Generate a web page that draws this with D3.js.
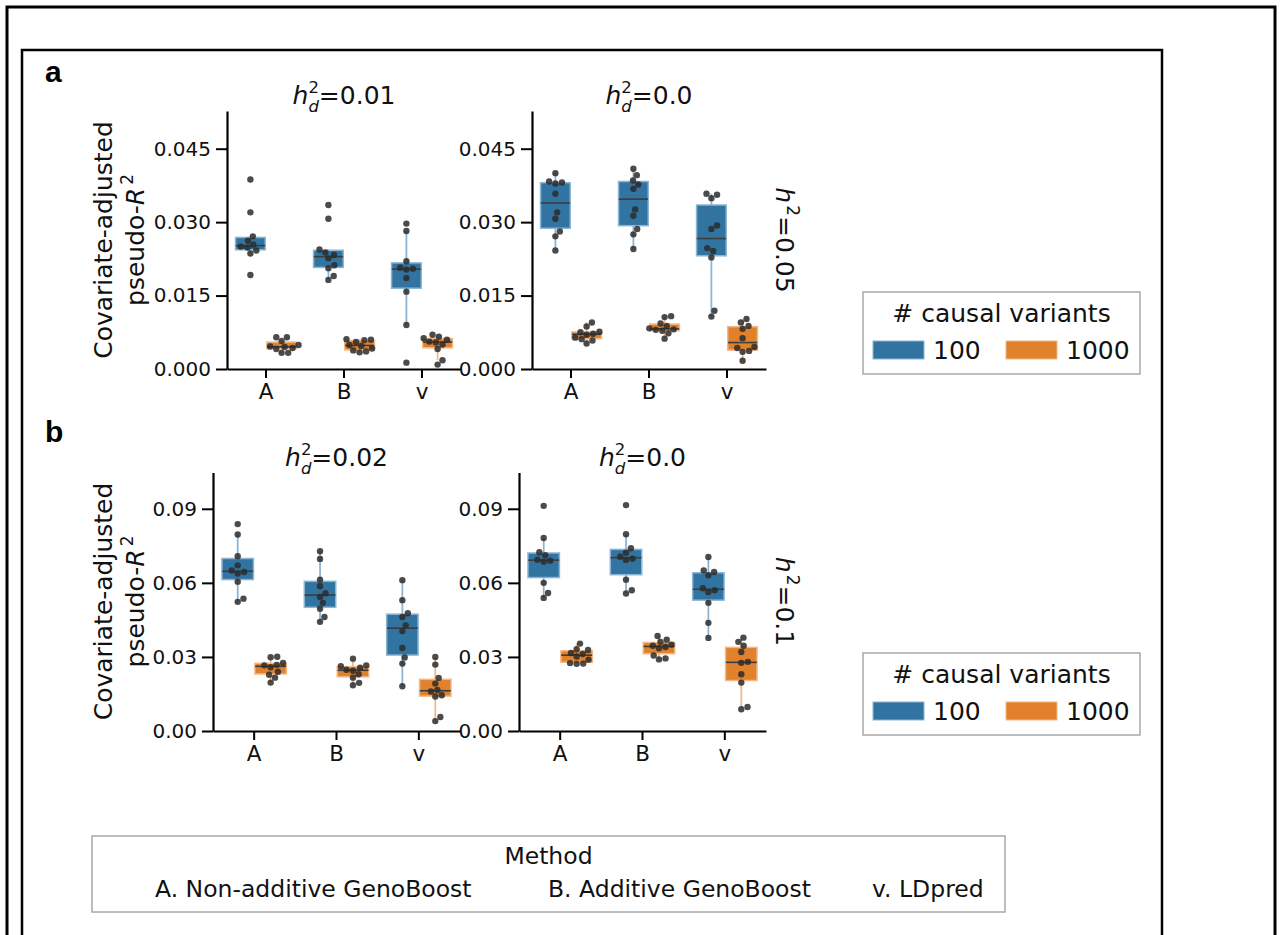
<!DOCTYPE html>
<html>
<head>
<meta charset="utf-8">
<script src="https://cdn.jsdelivr.net/npm/d3@7"></script>
<style>
  body { margin: 0; background: #fff; }
  svg { display: block; font-family: "DejaVu Sans", sans-serif; }
</style>
</head>
<body>
<script>
// ---- data (10 replicates per box) ----
var methods = ["A", "B", "v"];
var methodNames = ["A. Non-additive GenoBoost", "B. Additive GenoBoost", "v. LDpred"];
var causalVariants = ["100", "1000"];
var hueColors = ["#3274a1", "#e1812c"];
var whiskerColors = ["#8db4d2", "#f1b888"];

// panel a, h2 = 0.05, h_d^2 = 0.01   (order: A, B, v)
var a1_100 = [
  [0.0192, 0.0236, 0.0242, 0.0248, 0.0250, 0.0254, 0.0262, 0.0271, 0.0320, 0.0387],
  [0.0182, 0.0190, 0.0206, 0.0212, 0.0226, 0.0233, 0.0238, 0.0244, 0.0307, 0.0335],
  [0.0013, 0.0090, 0.0158, 0.0186, 0.0203, 0.0205, 0.0207, 0.0220, 0.0282, 0.0297]
];
var a1_1000 = [
  [0.0033, 0.0033, 0.0041, 0.0043, 0.0045, 0.0046, 0.0049, 0.0057, 0.0065, 0.0065],
  [0.0034, 0.0036, 0.0038, 0.0042, 0.0047, 0.0049, 0.0055, 0.0059, 0.0060, 0.0061],
  [0.0009, 0.0018, 0.0041, 0.0050, 0.0054, 0.0056, 0.0060, 0.0063, 0.0066, 0.0070]
];
// panel a, h2 = 0.05, h_d^2 = 0.0
var a2_100 = [
  [0.0242, 0.0271, 0.0281, 0.0307, 0.0320, 0.0358, 0.0379, 0.0381, 0.0383, 0.0400],
  [0.0245, 0.0275, 0.0286, 0.0313, 0.0326, 0.0368, 0.0377, 0.0385, 0.0396, 0.0409],
  [0.0107, 0.0119, 0.0228, 0.0241, 0.0247, 0.0286, 0.0293, 0.0349, 0.0356, 0.0358]
];
var a2_1000 = [
  [0.0052, 0.0058, 0.0061, 0.0064, 0.0070, 0.0072, 0.0075, 0.0076, 0.0087, 0.0095],
  [0.0062, 0.0073, 0.0078, 0.0080, 0.0081, 0.0083, 0.0088, 0.0093, 0.0106, 0.0108],
  [0.0017, 0.0035, 0.0037, 0.0043, 0.0045, 0.0063, 0.0082, 0.0088, 0.0095, 0.0102]
];
// panel b, h2 = 0.1, h_d^2 = 0.02
var b1_100 = [
  [0.0523, 0.0536, 0.0605, 0.0638, 0.0644, 0.0650, 0.0671, 0.0708, 0.0796, 0.0838],
  [0.0442, 0.0462, 0.0495, 0.0519, 0.0543, 0.0558, 0.0586, 0.0613, 0.0697, 0.0728],
  [0.0181, 0.0273, 0.0298, 0.0336, 0.0405, 0.0428, 0.0462, 0.0477, 0.0530, 0.0611]
];
var b1_1000 = [
  [0.0196, 0.0216, 0.0228, 0.0240, 0.0258, 0.0266, 0.0268, 0.0276, 0.0299, 0.0301],
  [0.0185, 0.0195, 0.0216, 0.0230, 0.0244, 0.0248, 0.0256, 0.0262, 0.0266, 0.0293],
  [0.0040, 0.0057, 0.0140, 0.0145, 0.0160, 0.0166, 0.0192, 0.0215, 0.0269, 0.0300]
];
// panel b, h2 = 0.1, h_d^2 = 0.0
var b2_100 = [
  [0.0539, 0.0559, 0.0600, 0.0686, 0.0690, 0.0694, 0.0712, 0.0724, 0.0782, 0.0912],
  [0.0557, 0.0570, 0.0613, 0.0693, 0.0698, 0.0706, 0.0722, 0.0740, 0.0797, 0.0915],
  [0.0377, 0.0438, 0.0519, 0.0563, 0.0570, 0.0578, 0.0631, 0.0644, 0.0650, 0.0705]
];
var b2_1000 = [
  [0.0272, 0.0273, 0.0275, 0.0289, 0.0302, 0.0312, 0.0316, 0.0328, 0.0331, 0.0354],
  [0.0290, 0.0294, 0.0306, 0.0335, 0.0340, 0.0345, 0.0350, 0.0361, 0.0370, 0.0385],
  [0.0088, 0.0097, 0.0196, 0.0230, 0.0276, 0.0280, 0.0320, 0.0345, 0.0361, 0.0378]
];

var aTicks = [0, 0.015, 0.030, 0.045];
var bTicks = [0, 0.03, 0.06, 0.09];

var svgWidth = 1281;
var svgHeight = 935;

var svg = d3.select("body")
  .append("svg")
  .attr("width", svgWidth)
  .attr("height", svgHeight);

// outer and inner frames (run past the bottom edge like the original)
svg.append("rect")
  .attr("x", 7).attr("y", 7).attr("width", 1268).attr("height", 1000)
  .attr("fill", "none").attr("stroke", "#000").attr("stroke-width", 3);
svg.append("rect")
  .attr("x", 22).attr("y", 50).attr("width", 1140).attr("height", 1000)
  .attr("fill", "none").attr("stroke", "#000").attr("stroke-width", 2.5);

// panel letters
svg.append("text").attr("x", 45).attr("y", 82)
  .style("font-family", "'Liberation Sans', Arial, sans-serif")
  .attr("font-weight", "bold").attr("font-size", 30).text("a");
svg.append("text").attr("x", 45).attr("y", 442)
  .style("font-family", "'Liberation Sans', Arial, sans-serif")
  .attr("font-weight", "bold").attr("font-size", 30).text("b");

// simple beeswarm: place points (sorted by value) as close to the centre as possible
function swarm(vals, cx, y, diam) {
  var pts = vals.map(function(v) { return { v: v, y: y(v), off: 0 }; });
  pts.sort(function(p, q) { return p.v - q.v; });
  var placed = [];
  pts.forEach(function(p) {
    var cands = [0];
    placed.forEach(function(q) {
      var dy = Math.abs(q.y - p.y);
      if (dy < diam) {
        var dx = Math.sqrt(diam * diam - dy * dy);
        cands.push(q.off + dx, q.off - dx);
      }
    });
    cands.sort(function(a, b) { return Math.abs(a) - Math.abs(b); });
    for (var i = 0; i < cands.length; i++) {
      var c = cands[i];
      var ok = placed.every(function(q) {
        return Math.hypot(q.off - c, q.y - p.y) >= diam - 1e-6;
      });
      if (ok) { p.off = c; break; }
    }
    placed.push(p);
  });
  return pts.map(function(p) { return { x: cx + p.off, y: p.y }; });
}

function boxStats(vals) {
  var s = vals.slice().sort(d3.ascending);
  var q1 = d3.quantile(s, 0.25), med = d3.quantile(s, 0.5), q3 = d3.quantile(s, 0.75);
  var iqr = q3 - q1;
  var lo = d3.min(s.filter(function(v) { return v >= q1 - 1.5 * iqr; }));
  var hi = d3.max(s.filter(function(v) { return v <= q3 + 1.5 * iqr; }));
  return { q1: q1, med: med, q3: q3, lo: lo, hi: hi };
}

function addTitle(cx, baseline, val) {
  var t = svg.append("text")
    .attr("x", cx).attr("y", baseline)
    .attr("text-anchor", "middle").attr("font-size", 25).attr("fill", "#111");
  t.append("tspan").attr("font-style", "italic").text("h");
  t.append("tspan").attr("font-size", 16.5).attr("dy", -11).text("2");
  t.append("tspan").attr("font-size", 16.5).attr("font-style", "italic")
    .attr("dx", -10.5).attr("dy", 19).text("d");
  t.append("tspan").attr("dy", -8).text("=" + val);
}

function addYLabel(cy) {
  var g = svg.append("g").attr("font-size", 25).attr("fill", "#111");
  g.append("text")
    .attr("transform", "translate(112," + cy + ") rotate(-90)")
    .attr("text-anchor", "middle").text("Covariate-adjusted");
  var t = g.append("text")
    .attr("transform", "translate(144," + cy + ") rotate(-90)")
    .attr("text-anchor", "middle");
  t.append("tspan").text("pseudo-");
  t.append("tspan").attr("font-style", "italic").text("R");
  t.append("tspan").attr("font-size", 17).attr("dx", 3).attr("dy", -11).text("2");
}

function addRowLabel(cy, val) {
  var t = svg.append("text")
    .attr("transform", "translate(776," + cy + ") rotate(90)")
    .attr("text-anchor", "middle").attr("font-size", 25).attr("fill", "#111");
  t.append("tspan").attr("font-style", "italic").text("h");
  t.append("tspan").attr("font-size", 17).attr("dx", 2).attr("dy", -11).text("2");
  t.append("tspan").attr("dy", 11).text("=" + val);
}

function drawPlot(cfg) {
  var g = svg.append("g");
  var x = d3.scaleBand().domain(methods).range([cfg.x0, cfg.x1]);
  var y = d3.scaleLinear().domain([0, cfg.ymax]).range([cfg.yb, cfg.yt]);
  var hue = d3.scaleBand().domain(causalVariants)
    .range([-0.4 * x.bandwidth(), 0.4 * x.bandwidth()]);

  cfg.series.forEach(function(ser, h) {
    methods.forEach(function(m, i) {
      var vals = ser[i];
      var st = boxStats(vals);
      var left = x(m) + x.bandwidth() / 2 + hue(causalVariants[h]);
      var w = hue.bandwidth();
      var cx = left + w / 2;
      var bg = g.append("g");
      // whiskers
      bg.append("line")
        .attr("x1", cx).attr("x2", cx).attr("y1", y(st.q3)).attr("y2", y(st.hi))
        .attr("stroke", whiskerColors[h]).attr("stroke-width", 1.8);
      bg.append("line")
        .attr("x1", cx).attr("x2", cx).attr("y1", y(st.q1)).attr("y2", y(st.lo))
        .attr("stroke", whiskerColors[h]).attr("stroke-width", 1.8);
      // box
      bg.append("rect")
        .attr("x", left + 0.75).attr("y", y(st.q3))
        .attr("width", w - 1.5).attr("height", y(st.q1) - y(st.q3))
        .attr("fill", hueColors[h])
        .attr("stroke", whiskerColors[h]).attr("stroke-width", 1.5);
      // median
      bg.append("line")
        .attr("x1", left + 1).attr("x2", left + w - 1)
        .attr("y1", y(st.med)).attr("y2", y(st.med))
        .attr("stroke", "#3d3d3d").attr("stroke-width", 1.6);
      // swarm points
      bg.selectAll("circle")
        .data(swarm(vals, cx, y, 6.6))
        .enter()
        .append("circle")
        .attr("cx", function(d) { return d.x; })
        .attr("cy", function(d) { return d.y; })
        .attr("r", 3.2)
        .attr("fill", "#2b2b2b")
        .attr("fill-opacity", 0.85);
    });
  });

  var leftAxis = d3.axisLeft(y)
    .tickValues(cfg.ticks)
    .tickFormat(d3.format(cfg.fmt))
    .tickSize(11).tickSizeOuter(0).tickPadding(5);
  var bottomAxis = d3.axisBottom(x)
    .tickSize(9).tickSizeOuter(0).tickPadding(6);

  var ga = g.append("g").attr("transform", "translate(" + cfg.x0 + ",0)").call(leftAxis);
  var gb = g.append("g").attr("transform", "translate(0," + cfg.yb + ")").call(bottomAxis);
  [ga, gb].forEach(function(ax) {
    ax.select(".domain").attr("stroke", "#000").attr("stroke-width", 2.2);
    ax.selectAll(".tick line").attr("stroke", "#000").attr("stroke-width", 2);
    ax.selectAll(".tick text")
      .attr("fill", "#111").attr("font-size", 20)
      .style("font-family", "'DejaVu Sans', sans-serif");
  });
  gb.selectAll(".tick text").attr("font-size", 21.5);

  addTitle((cfg.x0 + cfg.x1) / 2, cfg.yt - 7, cfg.title);
}

drawPlot({ x0: 227, x1: 461, yt: 111, yb: 369, ymax: 0.0527, ticks: aTicks, fmt: ".3f",
  series: [a1_100, a1_1000], title: "0.01" });
drawPlot({ x0: 532, x1: 766, yt: 111, yb: 369, ymax: 0.0527, ticks: aTicks, fmt: ".3f",
  series: [a2_100, a2_1000], title: "0.0" });
drawPlot({ x0: 213, x1: 460, yt: 472.5, yb: 731, ymax: 0.1047, ticks: bTicks, fmt: ".2f",
  series: [b1_100, b1_1000], title: "0.02" });
drawPlot({ x0: 519, x1: 766, yt: 472.5, yb: 731, ymax: 0.1047, ticks: bTicks, fmt: ".2f",
  series: [b2_100, b2_1000], title: "0.0" });

addYLabel(240);
addYLabel(601.5);
addRowLabel(240, "0.05");
addRowLabel(601.5, "0.1");

// hue legends
function addHueLegend(top) {
  var g = svg.append("g").attr("transform", "translate(863," + top + ")");
  g.append("rect").attr("width", 277).attr("height", 82)
    .attr("fill", "#fff").attr("stroke", "#a8a8a8").attr("stroke-width", 1.5);
  g.append("text").attr("x", 138.5).attr("y", 29.5)
    .attr("text-anchor", "middle").attr("font-size", 25).attr("fill", "#111")
    .text("# causal variants");
  var sx = [10, 143];
  causalVariants.forEach(function(c, i) {
    g.append("rect").attr("x", sx[i]).attr("y", 49).attr("width", 51).attr("height", 18)
      .attr("fill", hueColors[i]).attr("stroke", whiskerColors[i]).attr("stroke-width", 1);
    g.append("text").attr("x", sx[i] + 60).attr("y", 66.5)
      .attr("font-size", 25).attr("fill", "#111").text(c);
  });
}
addHueLegend(292);
addHueLegend(653);

// method legend
var ml = svg.append("g");
ml.append("rect").attr("x", 92).attr("y", 836).attr("width", 913).attr("height", 76)
  .attr("fill", "#fff").attr("stroke", "#a8a8a8").attr("stroke-width", 1.5);
ml.append("text").attr("x", 548.5).attr("y", 864)
  .attr("text-anchor", "middle").attr("font-size", 23.5).attr("fill", "#111").text("Method");
var entryX = [155, 548, 872];
methodNames.forEach(function(n, i) {
  ml.append("text").attr("x", entryX[i]).attr("y", 897)
    .attr("font-size", 23.5).attr("fill", "#111").text(n);
});
</script>
</body>
</html>
